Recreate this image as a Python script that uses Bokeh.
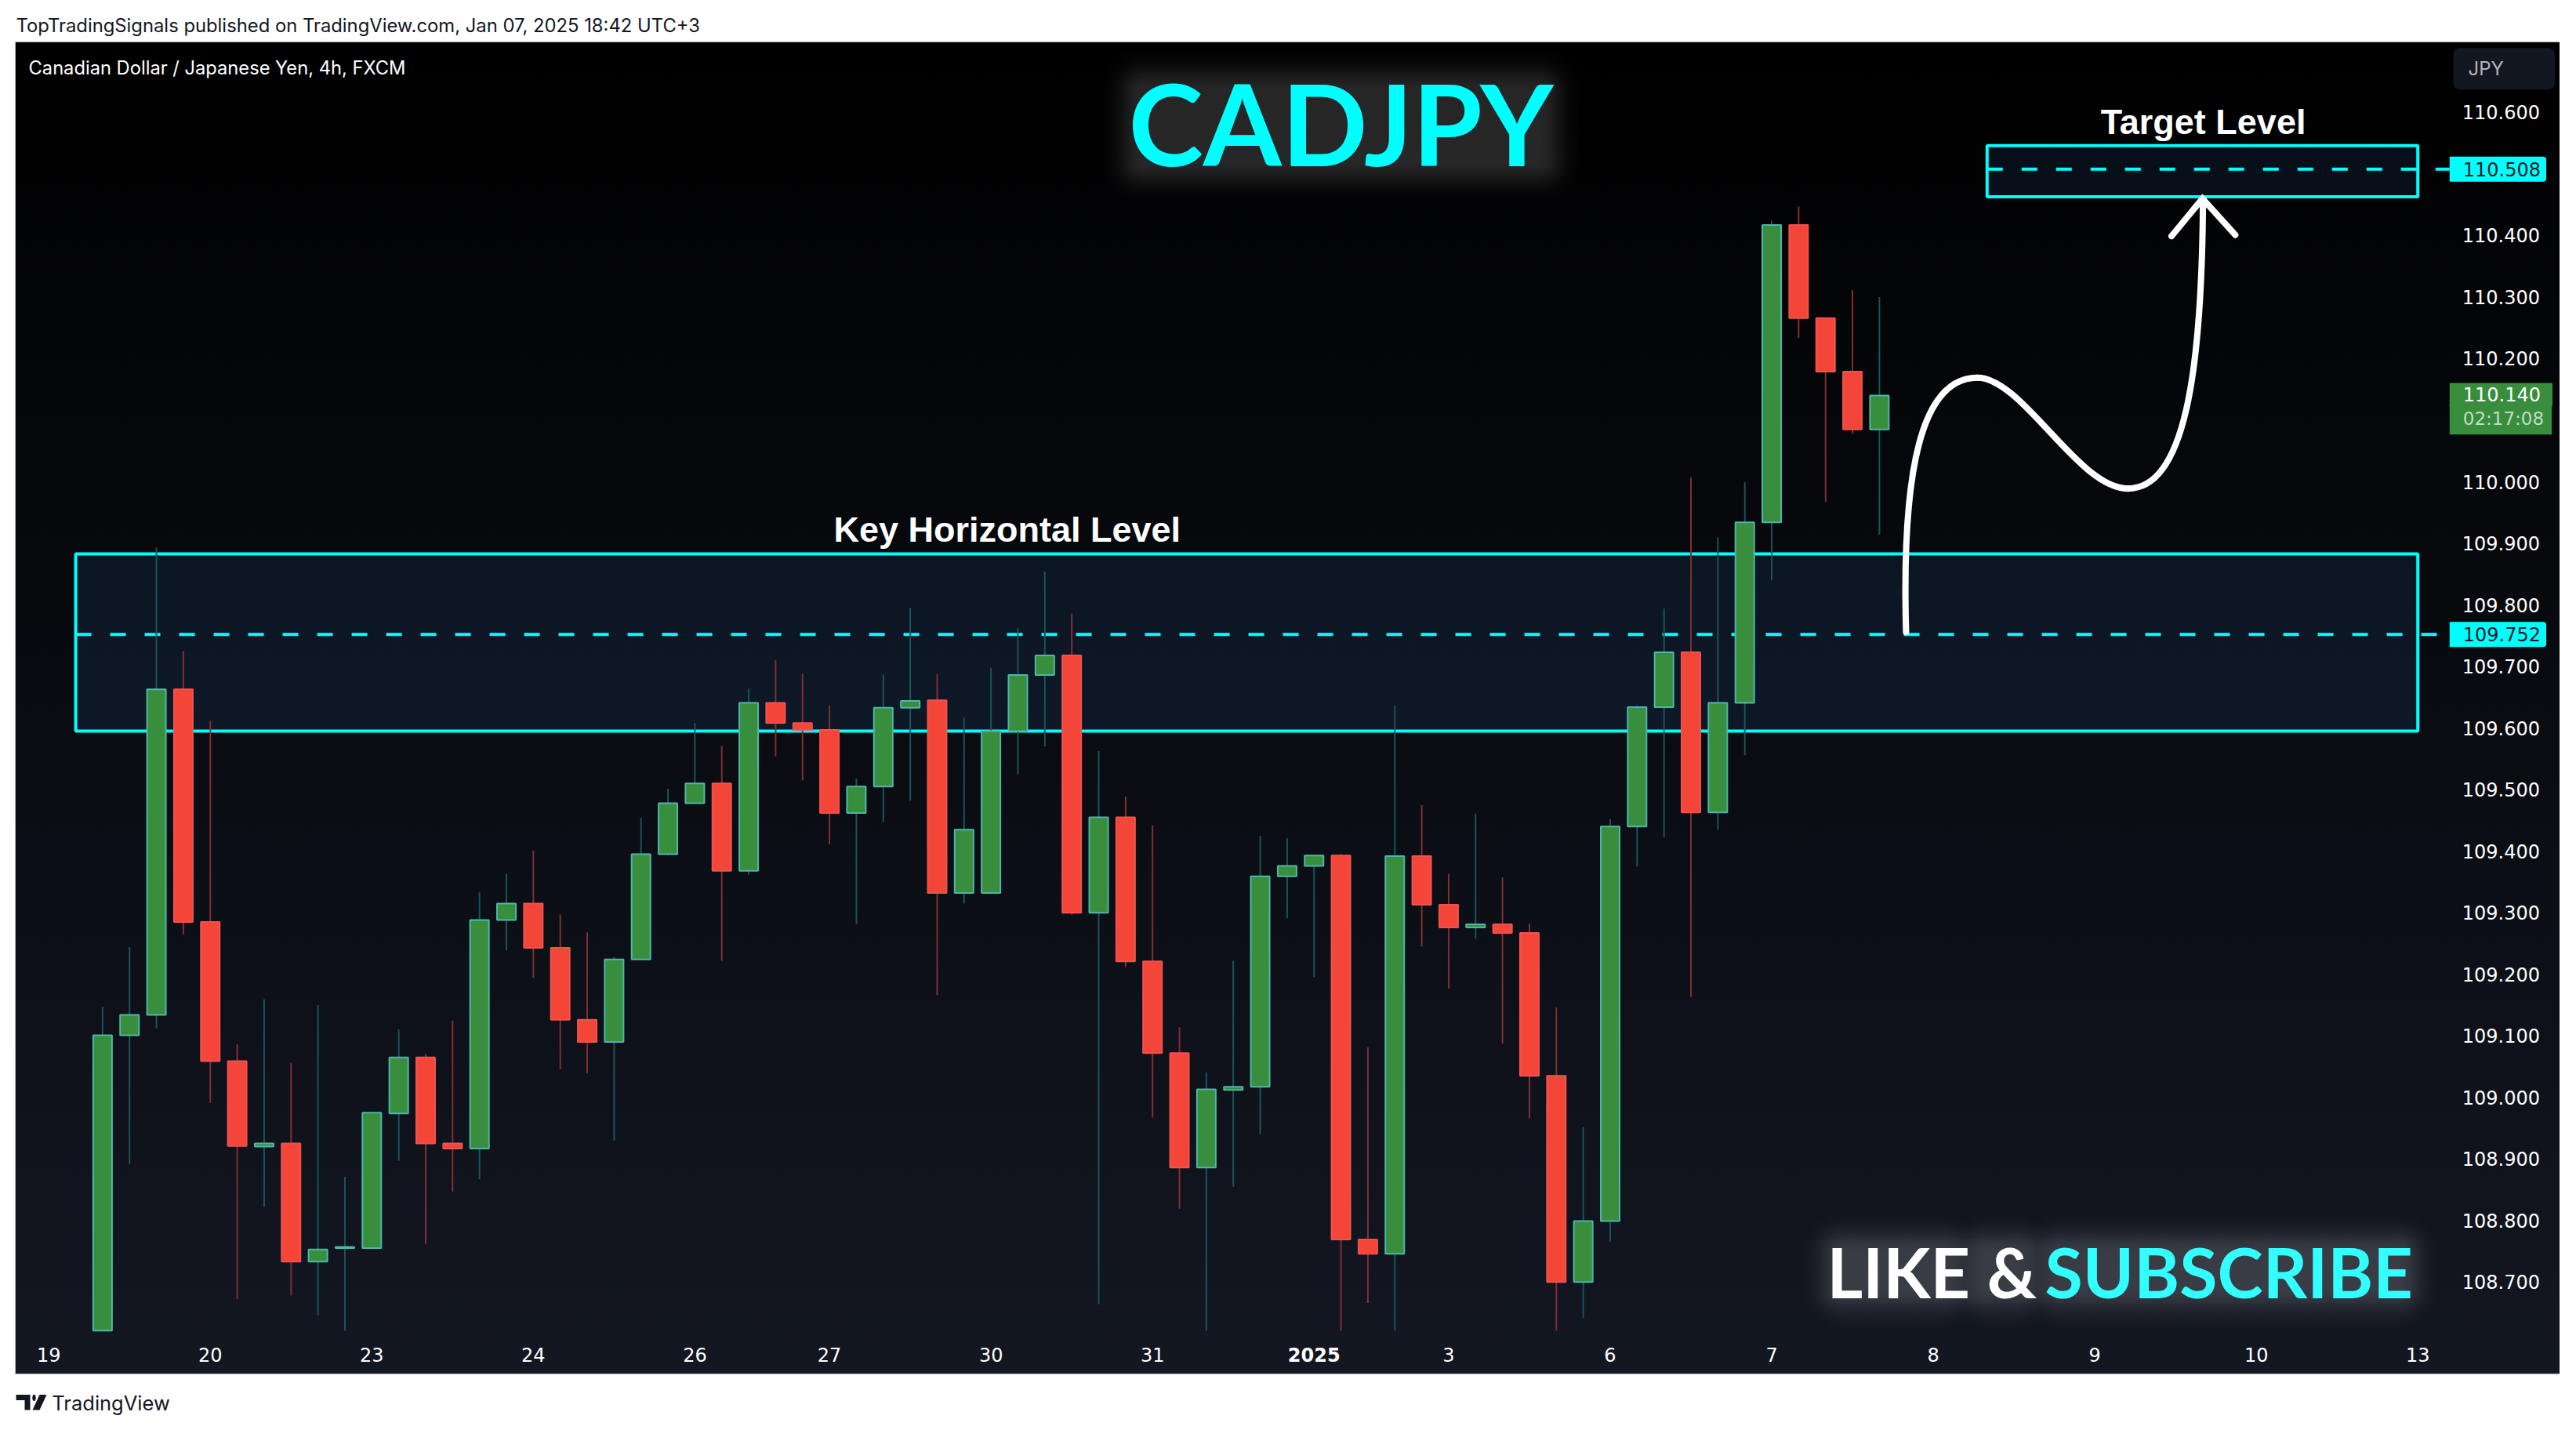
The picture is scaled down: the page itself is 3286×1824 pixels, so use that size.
import numpy as np
from bokeh.plotting import figure
from bokeh.models import Label, Range1d, FixedTicker, NumeralTickFormatter, PolyAnnotation, ColumnDataSource
from bokeh.embed import file_html
from bokeh.resources import INLINE

first_index = 2
opens = [108.621,109.101,109.134,109.663,109.285,109.059,108.920,108.925,108.733,108.755,108.755,108.974,109.065,108.925,108.917,109.288,109.315,109.243,109.126,109.090,109.224,109.395,109.478,109.510,109.368,109.641,109.608,109.597,109.462,109.505,109.633,109.645,109.332,109.332,109.595,109.686,109.718,109.300,109.455,109.221,109.072,108.886,109.012,109.017,109.359,109.376,109.393,108.769,108.746,109.392,109.313,109.276,109.281,109.267,109.035,108.700,108.799,109.440,109.634,109.723,109.463,109.641,109.934,110.417,110.266,110.179,110.085]
closes = [109.101,109.134,109.663,109.285,109.059,108.921,108.925,108.733,108.753,108.757,108.975,109.065,108.925,108.917,109.288,109.315,109.243,109.126,109.090,109.224,109.395,109.478,109.510,109.368,109.641,109.608,109.597,109.462,109.505,109.633,109.644,109.332,109.435,109.595,109.686,109.718,109.300,109.455,109.221,109.072,108.886,109.013,109.017,109.359,109.376,109.393,108.769,108.746,109.392,109.313,109.276,109.281,109.267,109.035,108.700,108.799,109.440,109.634,109.723,109.463,109.641,109.934,110.417,110.266,110.179,110.085,110.140]
highs = [109.147,109.244,109.893,109.725,109.612,109.086,109.159,109.056,109.150,108.871,108.975,109.110,109.071,109.125,109.333,109.363,109.401,109.297,109.268,109.228,109.454,109.501,109.608,109.571,109.664,109.710,109.688,109.636,109.518,109.687,109.795,109.687,109.617,109.698,109.762,109.854,109.786,109.563,109.489,109.442,109.114,109.040,109.222,109.425,109.421,109.393,109.395,109.081,109.636,109.475,109.363,109.461,109.357,109.282,109.146,108.952,109.452,109.637,109.794,110.007,109.910,109.999,110.424,110.447,110.266,110.311,110.300]
lows = [108.621,108.892,109.112,109.265,108.991,108.672,108.822,108.678,108.646,108.621,108.755,108.897,108.762,108.847,108.867,109.239,109.194,109.046,109.039,108.930,109.224,109.393,109.478,109.222,109.362,109.554,109.515,109.411,109.282,109.447,109.482,109.166,109.315,109.332,109.525,109.570,109.297,108.664,109.212,108.967,108.819,108.621,108.855,108.940,109.291,109.195,108.621,108.666,108.621,109.245,109.177,109.258,109.087,108.966,108.621,108.642,108.765,109.375,109.423,109.163,109.435,109.556,109.840,110.234,109.967,110.078,109.914]

x_tick_pos = [0,6,12,18,24,29,35,41,52,58,64,70,76,82,88]
x_tick_lab = ["19","20","23","24","26","27","30","31","3","6","7","8","9","10","13"]
y_ticks = [110.6,110.4,110.3,110.2,110.0,109.9,109.8,109.7,109.6,109.5,109.4,109.3,109.2,109.1,109.0,108.9,108.8,108.7]

key_zone = (1.0, 88.0, 109.595, 109.883, 109.752)
target_zone = (72.0, 88.0, 110.463, 110.546, 110.508)

curve_x0 = [68.99, 71.64, 77.24]
curve_y0 = [109.756, 110.169, 109.989]
curve_x1 = [71.64, 77.24, 80.02]
curve_y1 = [110.169, 109.989, 110.459]
curve_cx0 = [68.82, 73.33, 79.31]
curve_cy0 = [110.018, 110.169, 109.989]
curve_cx1 = [69.55, 75.37, 79.98]
curve_cy1 = [110.169, 109.989, 110.171]
arrow_x = [78.85, 80.0, 81.22]
arrow_y = [110.399, 110.460, 110.401]

# soft haze behind the display texts: (left, right, bottom, top) in bar index / price, strength
glow_boxes = [(40.6, 55.4, 110.52, 110.635, 0.15),
              (66.6, 70.4, 108.69, 108.745, 0.17),
              (72.0, 73.1, 108.69, 108.745, 0.17),
              (74.7, 87.3, 108.69, 108.745, 0.17)]

X_L, X_R = -1.797, 93.89
Y_B, Y_T = 108.459, 110.782
SCALE_X = 89.18
TIME_Y = 108.621
PX_PER_BAR, PX_PER_PRICE = 34.34, 785.3
UI = "Inter"
NUM = "DejaVu Sans"
DISPLAY = "Lato"

css_bg = ("linear-gradient(#fff,#fff) 0 0/19px 100% no-repeat,"
          "linear-gradient(#b2b5be,#b2b5be) 19px 54px/1px 1699px no-repeat,"
          "linear-gradient(#fff,#fff) 100% 0/21px 100% no-repeat,"
          "linear-gradient(#b2b5be,#b2b5be) 3265px 54px/1px 1699px no-repeat,"
          "linear-gradient(to bottom,#fff 53px,#b2b5be 53px,#b2b5be 54px,#000 54px,#131722 1752px,#b2b5be 1752px,#b2b5be 1753px,#fff 1753px)")

p = figure(width=3286, height=1824, output_backend="svg", toolbar_location=None,
           x_range=Range1d(X_L, X_R), y_range=Range1d(Y_B, Y_T), y_axis_location="right",
           min_border_left=0, min_border_right=0, min_border_top=0, min_border_bottom=0,
           background_fill_alpha=0, border_fill_alpha=0, outline_line_color=None,
           styles={"background": css_bg})
p.grid.visible = False
for ax in (p.xaxis[0], p.yaxis[0]):
    ax.axis_line_color = None
    ax.major_tick_line_color = None
    ax.minor_tick_line_color = None
    ax.major_label_text_color = "#ffffff"
    ax.major_label_text_font = NUM
    ax.major_label_text_font_size = "24px"
p.xaxis[0].ticker = FixedTicker(ticks=x_tick_pos)
p.xaxis[0].major_label_overrides = dict(zip(x_tick_pos, x_tick_lab))
p.xaxis[0].major_label_standoff = 16
p.xaxis[0].fixed_location = TIME_Y
p.yaxis[0].ticker = FixedTicker(ticks=y_ticks)
p.yaxis[0].formatter = NumeralTickFormatter(format="0.000")
p.yaxis[0].major_label_standoff = 10
p.yaxis[0].fixed_location = SCALE_X

def haze(left, right, bottom, top, strength, falloff=30, reach=62, step=2):
    """Soft-edged white alpha image around a text's extent."""
    w_px = (right - left) * PX_PER_BAR
    h_px = (top - bottom) * PX_PER_PRICE
    gx = np.arange(-reach, w_px + reach + step, step)
    gy = np.arange(-reach, h_px + reach + step, step)
    dx = np.maximum(np.maximum(-gx, gx - w_px), 0)[None, :]
    dy = np.maximum(np.maximum(-gy, gy - h_px), 0)[:, None]
    d = np.sqrt(dx ** 2 + dy ** 2)
    alpha = strength * np.exp(-(d / falloff) ** 2)
    alpha = (alpha * 255).astype(np.uint32)
    img = (alpha << 24) | (255 << 16) | (255 << 8) | 255
    p.image_rgba(image=[img], x=left - reach / PX_PER_BAR, y=bottom - reach / PX_PER_PRICE,
                 dw=(gx[-1] - gx[0]) / PX_PER_BAR, dh=(gy[-1] - gy[0]) / PX_PER_PRICE)

for box in glow_boxes:
    haze(*box)

CYAN = "#00ffff"
for z in (key_zone, target_zone):
    p.quad(left=[z[0]], right=[z[1]], bottom=[z[2]], top=[z[3]], fill_color="#398ce1", fill_alpha=0.10,
           line_color=CYAN, line_width=4)
    p.segment(x0=[z[0]], x1=[SCALE_X], y0=[z[4]], y1=[z[4]], line_color=CYAN, line_width=4, line_dash="20 24")

xs = [first_index + k for k in range(len(opens))]
up = [c >= o for o, c in zip(opens, closes)]
src = ColumnDataSource(dict(
    x=xs, o=opens, c=closes, h=highs, l=lows,
    fill=["#388e3c" if u else "#f44539" for u in up],
    edge=["#4db6ac" if u else "#ef5350" for u in up],
    wick=["#18555a" if u else "#7f2f36" for u in up]))
p.segment(x0="x", x1="x", y0="l", y1="h", line_color="wick", line_width=2, source=src)
p.vbar(x="x", width=24/34.34, bottom="o", top="c", fill_color="fill", line_color="edge", line_width=2, source=src)

p.bezier(x0=curve_x0, y0=curve_y0, x1=curve_x1, y1=curve_y1, cx0=curve_cx0, cy0=curve_cy0,
         cx1=curve_cx1, cy1=curve_cy1, line_color="white", line_width=8, line_cap="round")
p.line(arrow_x, arrow_y, line_color="white", line_width=8, line_cap="round", line_join="miter")

def lab(x, y, t, size, color="#ffffff", font=UI, style="normal", align="left", **kw):
    l = Label(x=x, y=y, text=t, text_font=font, text_font_size=f"{size}px", text_color=color,
              text_font_style=style, text_align=align, text_baseline="middle", **kw)
    p.add_layout(l)
    return l

lab(-1.214, 110.741, "TopTradingSignals published on TradingView.com, Jan 07, 2025 18:42 UTC+3", 23.8, "#131722")
lab(-0.748, 110.672, "Canadian Dollar / Japanese Yen, 4h, FXCM", 23.7)
lab(48.0, 110.583, "CADJPY", 144, CYAN, font=DISPLAY, style="bold", align="center")
lab(80.03, 110.585, "Target Level", 45, style="bold", font="Liberation Sans", align="center")
lab(35.6, 109.922, "Key Horizontal Level", 45, style="bold", font="Liberation Sans", align="center")
lab(66.05, 108.717, "LIKE &", 88, "#ffffff", font=DISPLAY, style="bold")
lab(74.15, 108.717, "SUBSCRIBE", 88, "#33ffff", font=DISPLAY, style="bold")
lab(47, 108.5815, "2025", 24, font=NUM, style="bold", align="center")
lab(0.12, 108.503, "TradingView", 25.5, "#131722")

lab(89.32, 110.671, "JPY", 24, "#b2b5be", background_fill_color="#131722", padding=(19, 65, 12, 12), border_radius=8)
lab(SCALE_X, 110.508, "110.508", 24, "#131722", font=NUM, background_fill_color=CYAN, padding=(17, 7, 7, 7), border_radius=(0,4,4,0))
lab(SCALE_X, 109.752, "109.752", 24, "#131722", font=NUM, background_fill_color=CYAN, padding=(17, 7, 7, 7), border_radius=(0,4,4,0))
lab(SCALE_X, 110.1415, "110.140", 24, "#ffffff", font=NUM, background_fill_color="#388e3c", padding=(17, 15, 6, 6))
lab(SCALE_X, 110.1015, "02:17:08", 23, "#c3ddc4", font=NUM, background_fill_color="#388e3c", padding=(17, 10, 6, 7))

logo_col = "#131722"
logo_shapes = [
    ([-1.214, -0.690, -0.690, -0.894, -0.894, -1.214], [108.517, 108.517, 108.492, 108.492, 108.508, 108.508]),
    ([-0.341, -0.079, -0.341, -0.603], [108.517, 108.517, 108.492, 108.492]),
    ([-0.585, -0.505, -0.475, -0.505, -0.585, -0.615], [108.517, 108.517, 108.512, 108.507, 108.507, 108.512]),
]
for lx, ly in logo_shapes:
    p.add_layout(PolyAnnotation(xs=lx, ys=ly, fill_color=logo_col, fill_alpha=1, line_color=None))

html = file_html(p, INLINE)
open("out.html", "w").write(html)
